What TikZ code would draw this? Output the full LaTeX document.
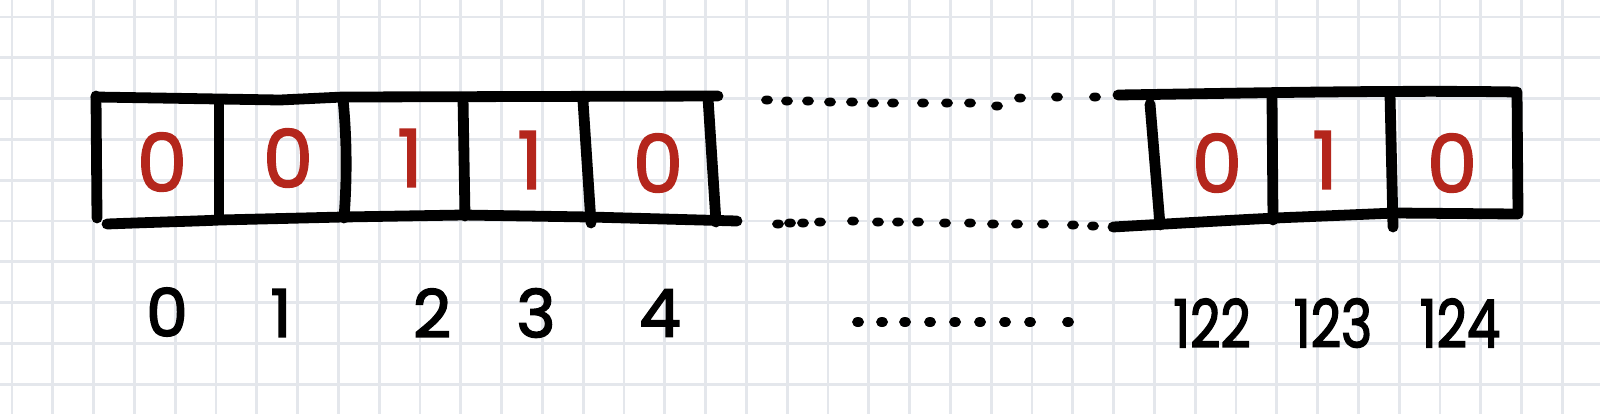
\documentclass[tikz,border=0pt]{standalone}
\usepackage{fontspec}
\setmainfont{Poppins}
\newfontfamily\bitfont[FakeBold=2]{Poppins}
\newfontfamily\idxfont[FakeBold=2.6]{Poppins}
\definecolor{gridc}{RGB}{228,231,236}
\definecolor{redd}{RGB}{180,38,28}
\tikzset{
  gridline/.style={draw=gridc,line width=1.4},
  pen/.style={draw=black,line width=5.4,line cap=round,line join=round},
  bit/.style={text=redd,inner sep=0pt,font=\fontsize{40}{40}\bitfont},
  idx/.style={text=black,inner sep=0pt,font=\fontsize{33}{33}\idxfont},
  dotmark/.style={fill=black}
}
\begin{document}
\begin{tikzpicture}[x=0.5pt,y=-0.5pt]
\fill[white] (0,0) rectangle (1600,414);
\useasboundingbox (0,0) rectangle (1600,414);
% grid
\foreach \i in {0,...,39} \draw[gridline] ({12+40.8*\i},0) -- ({12+40.8*\i},414);
\foreach \j in {0,...,9} \draw[gridline] (0,{17+40.8*\j}) -- (1600,{17+40.8*\j});
% left array
\draw[pen] (96,96) -- (97,218);
\draw[pen] (96,97) -- (219,99) -- (280,100) -- (343,97) -- (718,96);
\draw[pen] (107,224) .. controls (160,222) and (200,221) .. (220,220) -- (343,217) -- (463,215) -- (590,217) -- (737,221);
\draw[pen] (219,100) -- (219,219);
\draw[pen] (343,99) .. controls (347,140) and (347,180) .. (344,218);
\draw[pen] (463,98) -- (465,216);
\draw[pen] (583,101) -- (591,223);
\draw[pen] (708,98) -- (716,222);
% dotted top
\foreach \x/\y in {767/100,787/101,808/101,830/102,852/102,873/103,893/103,923/103,947/103,970/103,997/106,1020/98,1057/97,1095/97}
  \fill[dotmark] (\x,\y) ellipse (6 and 4.5);
% dotted bottom
\foreach \x/\y in {778/224,790/223,803/223,820/222,853/221,878/222,898/222,918/222,945/223,970/223,993/224,1017/224,1043/224,1073/225,1093/226}
  \fill[dotmark] (\x,\y) ellipse (6 and 4.5);
% right array
\draw[pen] (1118,95) .. controls (1250,93) and (1400,90) .. (1517,92) -- (1518,214);
\draw[pen] (1113,227) .. controls (1200,222) and (1270,218) .. (1300,217) -- (1395,213) -- (1517,214);
\draw[pen] (1150,104) -- (1160,225);
\draw[pen] (1272,98) -- (1273,220);
\draw[pen] (1390,95) -- (1393,227);
% bits
\node[bit] (b0) at (162,162) {0};
\node[bit] (b1) at (288,158) {0};
\node[bit] (b2) at (410,158) {1};
\node[bit] (b3) at (530,160) {1};
\node[bit] (b4) at (658,163) {0};
\node[bit] (b122) at (1217,163) {0};
\node[bit] (b123) at (1325,160) {1};
\node[bit] (b124) at (1452,163) {0};
% indices
\node[idx] (i0) at (167,312) {0};
\node[idx] (i1) at (281,313) {1};
\node[idx] (i2) at (432,313) {2};
\node[idx] (i3) at (536,313) {3};
\node[idx] (i4) at (660,313) {4};
\foreach \x in {858,882,905,930,955,980,1005,1030,1068}
  \fill[dotmark] (\x,322) ellipse (6 and 5);
\node[idx] (i122) at (1212,323) {\scalebox{0.8}[1]{122}};
\node[idx] (i123) at (1333,323) {\scalebox{0.8}[1]{123}};
\node[idx] (i124) at (1460,323) {\scalebox{0.8}[1]{124}};
\end{tikzpicture}
\end{document}
